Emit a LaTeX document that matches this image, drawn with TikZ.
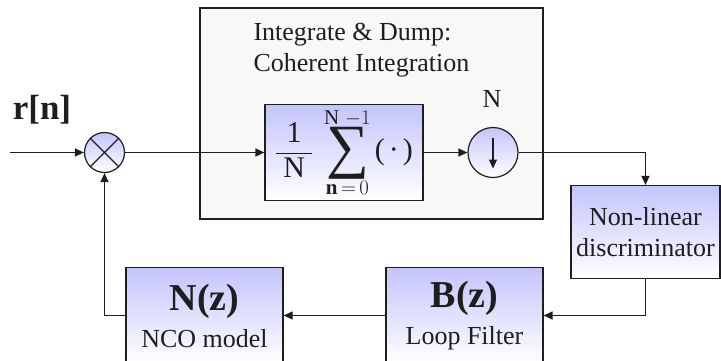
\documentclass[tikz,border=0pt]{standalone}
\usepackage{fontspec}
\setmainfont{Liberation Serif}
\usetikzlibrary{arrows.meta, positioning}
\definecolor{lavc}{RGB}{196,196,252}
\definecolor{inkc}{RGB}{30,30,30}
\definecolor{panelc}{RGB}{248,248,248}
\tikzset{
  blk/.style={
    rectangle, draw=inkc, line width=1.2pt,
    top color=lavc, bottom color=white,
    align=center, inner sep=0pt, text=inkc,
    font=\fontsize{26}{31}\selectfont
  },
  junc/.style={circle, draw=inkc, line width=1.2pt, top color=lavc,
               bottom color=white, inner sep=0pt},
  panel/.style={rectangle, draw=inkc, line width=1.2pt, fill=panelc, inner sep=0pt},
  arr/.style={-{Triangle[length=9pt, width=8pt]}, line width=1.2pt, draw=inkc},
  lbl/.style={font=\fontsize{26}{31}\selectfont, text=inkc},
  big/.style={font=\fontsize{35}{40}\selectfont\bfseries, text=inkc},
}

\begin{document}
\begin{tikzpicture}[x=1pt, y=-1pt]
  \clip (0,0) rectangle (721,360);

  % integrate and dump stage
  \node[panel, minimum width=343pt, minimum height=211pt] (idpanel) at (371.5,113.5) {};
  \node[lbl, anchor=north west, align=left] (idtitle) at (250,20)
    {Integrate \& Dump:\\Coherent Integration};
  \node[blk, minimum width=158pt, minimum height=96pt] (integ) at (344,152.5)
    {\fontsize{30}{36}\selectfont
     $\displaystyle{\mathrm{1}\above1.2pt\mathrm{\;N\;}}\;
      \mathop{\vcenter{\hbox{\fontsize{60}{60}\selectfont ∑}}}\limits_{\mathbf{n}\,=\,0}^{\mathrm{N}\;-1}
      \mbox{(\kern4pt·\kern4pt)}$};
  \node[junc, minimum size=50pt] (dsamp) at (493,152.5) {};
  \node[lbl] (dfac) at (492,99) {N};
  \draw[arr] ([yshift=15pt]dsamp.center) -- ([yshift=-16pt]dsamp.center);

  % mixer and input
  \coordinate (src) at (10,152.5);
  \node[junc, minimum size=40pt] (mixer) at (104.5,152.5) {};
  \draw[line width=1.2pt, draw=inkc] (mixer.north west) -- (mixer.south east)
    (mixer.north east) -- (mixer.south west);
  \node[big] (rn) at (42,110) {r[n]};

  % loop
  \node[blk, minimum width=149pt, minimum height=93pt] (disc) at (645.5,232)
    {Non-linear\\discriminator};
  \node[blk, minimum width=157pt, minimum height=96pt] (lfilt) at (464.5,315.5)
    {{\fontsize{38}{44}\selectfont\bfseries B(z)}\\[6pt]Loop Filter};
  \node[blk, minimum width=157pt, minimum height=96pt] (nco) at (204.5,315.5)
    {{\fontsize{38}{44}\selectfont\bfseries N(z)}\\[6pt]NCO model};

  \draw[arr] (src) -- (mixer);
  \draw[arr] (mixer) -- (integ);
  \draw[arr] (integ) -- (dsamp);
  \draw[arr] (dsamp) -| (disc);
  \draw[arr] (disc) |- (lfilt);
  \draw[arr] (lfilt) -- (nco);
  \draw[arr] (nco) -| (mixer);

\end{tikzpicture}
\end{document}
